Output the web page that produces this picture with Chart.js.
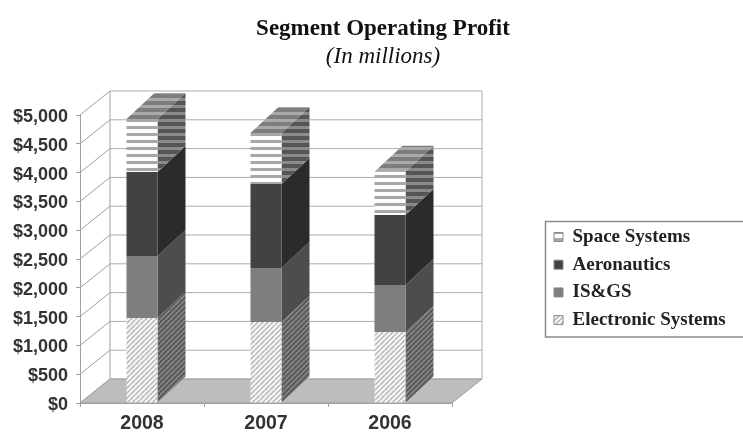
<!DOCTYPE html>
<html><head><meta charset="utf-8">
<script src="https://cdn.jsdelivr.net/npm/chart.js@4"></script>
<style>html,body{margin:0;padding:0;background:#fff}#w{width:743px;height:432px;position:relative;overflow:hidden}canvas{filter:blur(0.5px)}</style>
</head><body><div id="w"><canvas id="c" width="743" height="432"></canvas></div>
<script>
const categories = ['2008','2007','2006'];
const seriesNames = ['Electronic Systems','IS&GS','Aeronautics','Space Systems'];
const electronicSystems = [1476,1406,1233];
const isgs = [1076,938,816];
const aeronautics = [1458,1458,1215];
const spaceSystems = [920,885,752];
const yMax = 5000, yStep = 500;

function pat(w,h,bg,draw){
  const p=document.createElement('canvas');p.width=w;p.height=h;
  const x=p.getContext('2d');x.fillStyle=bg;x.fillRect(0,0,w,h);draw(x);
  return x.createPattern(p,'repeat');
}
const stripes=(bg,fg)=>pat(7,7,bg,x=>{x.fillStyle=fg;x.fillRect(0,0,7,3);});
const hatch=(bg,fg)=>pat(5,5,bg,x=>{x.strokeStyle=fg;x.lineWidth=1.5;
  for(const o of [-5,0,5]){x.beginPath();x.moveTo(o,5);x.lineTo(o+5,0);x.stroke();}});

const frontFill=[hatch('#f6f6f6','#b5b5b5'),'#7e7e7e','#424242',stripes('#fdfdfd','#a8a8a8')];
const sideFill=[hatch('#5a5a5a','#8c8c8c'),'#4d4d4d','#2b2b2b',stripes('#555555','#8a8a8a')];
const topFill=stripes('#7d7d7d','#a9a9a9');

const WALL={dx:30,dy:24}, BAR={dx:28,dy:26};
const GRID='#adadad', AXIS='#a0a0a0';

function poly(ctx,pts,fill,stroke){
  ctx.beginPath();pts.forEach((p,i)=>i?ctx.lineTo(p[0],p[1]):ctx.moveTo(p[0],p[1]));ctx.closePath();
  if(fill){ctx.fillStyle=fill;ctx.fill();}
  if(stroke){ctx.strokeStyle=stroke;ctx.lineWidth=1;ctx.stroke();}
}
function line(ctx,a,b,c,a2,b2){ctx.beginPath();ctx.moveTo(a,b);ctx.lineTo(a2,b2);ctx.strokeStyle=c;ctx.lineWidth=1;ctx.stroke();}

const scene3d={
  id:'scene3d',
  afterLayout(chart){
    chart.boxes.forEach(b=>{ if(b.position==='top'){b.left=0;b.right=766;} });
    const l=chart.legend,w=l.width,h=l.height;
    l.left=545.3;l.right=545.3+w;l.top=218.8;l.bottom=218.8+h+10;
  },
  beforeDatasetsDraw(chart){
    const ctx=chart.ctx,y=chart.scales.y,ca=chart.chartArea;
    const L=ca.left,R=ca.right,B=y.getPixelForValue(0);
    ctx.save();
    for(let v=0;v<=yMax;v+=yStep){
      const p=y.getPixelForValue(v);
      line(ctx,L,p,AXIS,L+WALL.dx,p-WALL.dy);
      line(ctx,L+WALL.dx,p-WALL.dy,GRID,R+WALL.dx,p-WALL.dy);
    }
    const T=y.getPixelForValue(yMax);
    line(ctx,L+WALL.dx,T-WALL.dy,AXIS,L+WALL.dx,B-WALL.dy);
    line(ctx,R+WALL.dx,T-WALL.dy,GRID,R+WALL.dx,B-WALL.dy);
    poly(ctx,[[L,B],[L+WALL.dx,B-WALL.dy],[R+WALL.dx,B-WALL.dy],[R,B]],'#bdbdbd','#a0a0a0');
    chart.data.datasets.forEach((ds,i)=>{
      chart.getDatasetMeta(i).data.forEach(el=>{
        const r=el.x+el.width/2;
        poly(ctx,[[r,el.y],[r+BAR.dx,el.y-BAR.dy],[r+BAR.dx,el.base-BAR.dy],[r,el.base]],sideFill[i]);
        if(i===chart.data.datasets.length-1){
          const l=el.x-el.width/2;
          poly(ctx,[[l,el.y],[l+BAR.dx,el.y-BAR.dy],[r+BAR.dx,el.y-BAR.dy],[r,el.y]],topFill);
        }
      });
    });
    ctx.restore();
  },
  afterDraw(chart){
    const ctx=chart.ctx;ctx.save();
    ctx.strokeStyle='#8a8a8a';ctx.lineWidth=1.5;
    ctx.strokeRect(545.5,221.5,210,115.5);
    ctx.restore();
  }
};

const values=[electronicSystems,isgs,aeronautics,spaceSystems];
new Chart(document.getElementById('c'),{
  type:'bar',
  plugins:[scene3d],
  data:{labels:categories,datasets:seriesNames.map((n,i)=>({
    label:n,data:values[i],backgroundColor:frontFill[i],borderWidth:0,
    categoryPercentage:0.25,barPercentage:1
  }))},
  options:{
    responsive:false,animation:false,
    layout:{padding:{left:0,right:291,top:15,bottom:0}},
    scales:{
      x:{stacked:true,offset:true,
        afterFit(s){s.height=29;},
        grid:{drawOnChartArea:false,drawTicks:true,tickLength:4,color:AXIS},
        border:{color:AXIS},
        ticks:{color:'#333',padding:5,maxRotation:0,font:{family:'Liberation Sans',weight:'bold',size:19.5}}
      },
      y:{stacked:true,min:0,max:yMax,
        afterFit(s){s.width=80;},
        grid:{drawOnChartArea:false,drawTicks:true,tickLength:4,color:AXIS},
        border:{color:AXIS},
        ticks:{stepSize:yStep,color:'#333',padding:8,labelOffset:2,
          font:{family:'Liberation Sans',weight:'bold',size:18},
          callback:v=>'$'+Number(v).toLocaleString('en-US')}
      }
    },
    plugins:{
      title:{display:true,text:'Segment Operating Profit',color:'#111',
        font:{family:'Liberation Serif',weight:'bold',size:23},padding:{top:0,bottom:0.4}},
      subtitle:{display:true,text:'(In millions)',color:'#111',
        font:{family:'Liberation Serif',style:'italic',weight:'normal',size:23},padding:{top:0,bottom:44.4}},
      legend:{position:'chartArea',align:'start',reverse:true,
        labels:{boxWidth:9,boxHeight:9,padding:8.7,color:'#222',
          font:{family:'Liberation Serif',weight:'bold',size:19},
          generateLabels(c){return Chart.defaults.plugins.legend.labels.generateLabels(c).map(o=>Object.assign(o,{lineWidth:1,strokeStyle:'#8a8a8a'}));}
        }},
      tooltip:{enabled:false}
    }
  }
});
</script></body></html>
